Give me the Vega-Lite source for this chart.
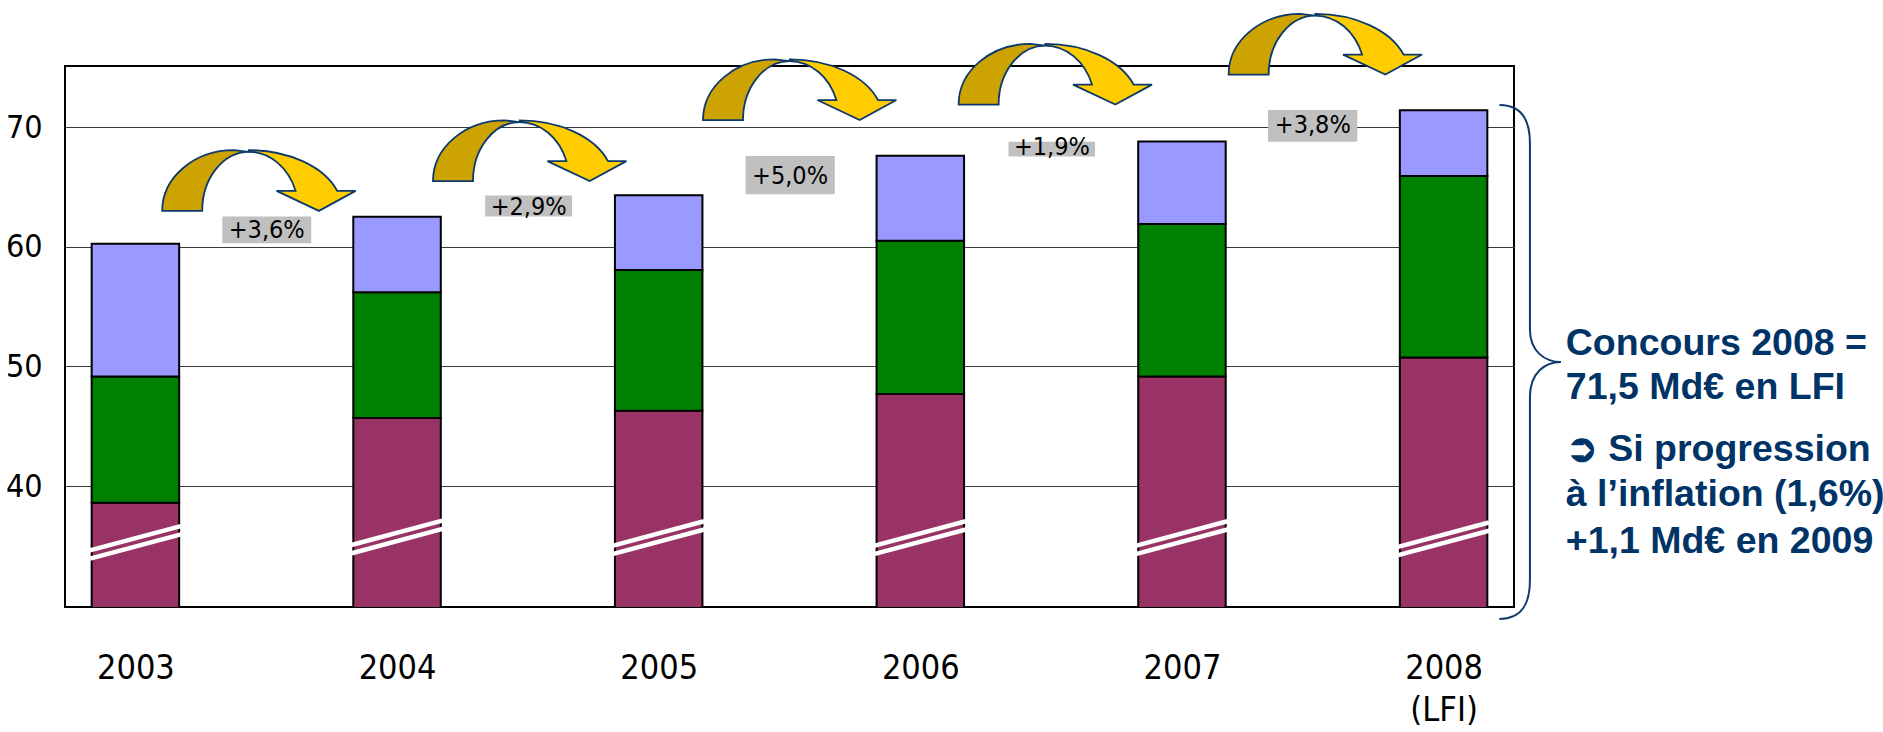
{
  "$schema": "https://vega.github.io/schema/vega-lite/v6.json",
  "width": 1449,
  "height": 541,
  "autosize": "none",
  "padding": {"left": 65, "top": 66, "right": 369, "bottom": 125},
  "background": "white",
  "config": {
    "view": {"stroke": "#000000", "strokeWidth": 2},
    "font": "Liberation Sans Narrow, DejaVu Sans Condensed, sans-serif"
  },
  "title": {
    "text": "(en milliards d'euros)",
    "frame": "group",
    "anchor": "start",
    "align": "center",
    "dx": 967,
    "dy": -17,
    "offset": 0,
    "baseline": "alphabetic",
    "fontSize": 31,
    "fontWeight": "normal",
    "color": "#000000",
    "font": "Liberation Sans Narrow, DejaVu Sans Condensed, sans-serif"
  },
  "datasets": {
    "bars": [
      {"year": 2003, "series": "DGF", "rank": 1, "value": 38.6},
      {"year": 2003, "series": "Autres concours", "rank": 2, "value": 10.55},
      {"year": 2003, "series": "Hors enveloppe", "rank": 3, "value": 11.1},
      {"year": 2004, "series": "DGF", "rank": 1, "value": 45.7},
      {"year": 2004, "series": "Autres concours", "rank": 2, "value": 10.5},
      {"year": 2004, "series": "Hors enveloppe", "rank": 3, "value": 6.3},
      {"year": 2005, "series": "DGF", "rank": 1, "value": 46.3},
      {"year": 2005, "series": "Autres concours", "rank": 2, "value": 11.75},
      {"year": 2005, "series": "Hors enveloppe", "rank": 3, "value": 6.25},
      {"year": 2006, "series": "DGF", "rank": 1, "value": 47.7},
      {"year": 2006, "series": "Autres concours", "rank": 2, "value": 12.8},
      {"year": 2006, "series": "Hors enveloppe", "rank": 3, "value": 7.1},
      {"year": 2007, "series": "DGF", "rank": 1, "value": 49.15},
      {"year": 2007, "series": "Autres concours", "rank": 2, "value": 12.75},
      {"year": 2007, "series": "Hors enveloppe", "rank": 3, "value": 6.9},
      {"year": 2008, "series": "DGF", "rank": 1, "value": 50.75},
      {"year": 2008, "series": "Autres concours", "rank": 2, "value": 15.15},
      {"year": 2008, "series": "Hors enveloppe", "rank": 3, "value": 5.5}
    ],
    "breaks": [
      {"year": 2003, "value": 35.3},
      {"year": 2004, "value": 35.75},
      {"year": 2005, "value": 35.7},
      {"year": 2006, "value": 35.7},
      {"year": 2007, "value": 35.7},
      {"year": 2008, "value": 35.6}
    ],
    "growth": [
      {"x": 2003.502, "x_lo": 2003.332, "x_hi": 2003.672, "y": 61.41, "y_lo": 60.3, "y_hi": 62.52, "label": "+3,6%"},
      {"x": 2004.503, "x_lo": 2004.337, "x_hi": 2004.669, "y": 63.35, "y_lo": 62.52, "y_hi": 64.29, "label": "+2,9%"},
      {"x": 2005.502, "x_lo": 2005.332, "x_hi": 2005.673, "y": 65.93, "y_lo": 64.39, "y_hi": 67.585, "label": "+5,0%"},
      {"x": 2006.503, "x_lo": 2006.337, "x_hi": 2006.668, "y": 68.31, "y_lo": 67.53, "y_hi": 68.78, "label": "+1,9%"},
      {"x": 2007.5, "x_lo": 2007.329, "x_hi": 2007.67, "y": 70.17, "y_lo": 68.78, "y_hi": 71.43, "label": "+3,8%"}
    ],
    "arrows": [
      {"x": 2003.472, "y": 65.53},
      {"x": 2004.507, "y": 68.02},
      {"x": 2005.539, "y": 73.12},
      {"x": 2006.516, "y": 74.41},
      {"x": 2007.548, "y": 76.92}
    ],
    "brace": [
      {"x": 2008.33, "y": 50.37}
    ],
    "note": [
      {"x": 2008.467, "y": 50.95, "text": "Concours 2008 ="},
      {"x": 2008.467, "y": 47.25, "text": "71,5 Md€ en LFI"},
      {"x": 2008.467, "y": 42.06, "text": "➲ Si progression"},
      {"x": 2008.467, "y": 38.3, "text": "à l’inflation (1,6%)"},
      {"x": 2008.467, "y": 34.41, "text": "+1,1 Md€ en 2009"}
    ]
  },
  "layer": [
    {
      "data": {"name": "bars"},
      "mark": {"type": "bar", "width": 87.5, "stroke": "#000000", "strokeWidth": 2, "clip": true},
      "encoding": {
        "x": {
          "field": "year",
          "type": "quantitative",
          "scale": {"domain": [2002.75, 2008.25], "nice": false, "zero": false},
          "axis": {
            "title": null,
            "values": [2003, 2004, 2005, 2006, 2007, 2008],
            "format": "d",
            "labelExpr": "datum.value == 2008 ? ['2008', '(LFI)'] : datum.label",
            "grid": false,
            "ticks": false,
            "tickSize": 0,
            "domain": false,
            "labelPadding": 44,
            "labelFontSize": 34,
            "labelLineHeight": 42,
            "labelColor": "#000000",
            "labelFont": "Liberation Sans Narrow, DejaVu Sans Condensed, sans-serif",
            "labelFlush": false,
            "labelOverlap": false
          }
        },
        "y": {
          "field": "value",
          "type": "quantitative",
          "stack": "zero",
          "scale": {"domain": [29.9, 75.1], "nice": false, "zero": false},
          "axis": {
            "title": null,
            "values": [40, 50, 60, 70],
            "grid": true,
            "gridColor": "#3a3a3a",
            "gridWidth": 1,
            "ticks": false,
            "tickSize": 0,
            "domain": false,
            "labelPadding": 23,
            "labelFontSize": 32,
            "labelColor": "#000000",
            "labelFont": "Liberation Sans Narrow, DejaVu Sans Condensed, sans-serif",
            "labelFlush": false
          }
        },
        "color": {
          "field": "series",
          "type": "nominal",
          "scale": {"domain": ["DGF", "Autres concours", "Hors enveloppe"], "range": ["#993366", "#008000", "#9999FF"]},
          "legend": null
        },
        "order": {"field": "rank", "type": "quantitative"}
      }
    },
    {
      "data": {"name": "breaks"},
      "mark": {"type": "point", "shape": "M-1,-0.0833H1M-1,0.0833H1", "size": 9216, "filled": false, "stroke": "#FFFFFF", "strokeWidth": 4.5, "opacity": 1, "angle": -15},
      "encoding": {
        "x": {"field": "year", "type": "quantitative", "title": null},
        "y": {"field": "value", "type": "quantitative", "title": null}
      }
    },
    {
      "data": {"name": "growth"},
      "mark": {"type": "rect", "fill": "#C0C0C0", "stroke": null},
      "encoding": {
        "x": {"field": "x_lo", "type": "quantitative", "title": null},
        "x2": {"field": "x_hi"},
        "y": {"field": "y_lo", "type": "quantitative", "title": null},
        "y2": {"field": "y_hi"}
      }
    },
    {
      "data": {"name": "growth"},
      "mark": {"type": "text", "fontSize": 25, "color": "#000000", "align": "center", "baseline": "middle", "font": "Liberation Sans Narrow, DejaVu Sans Condensed, sans-serif"},
      "encoding": {
        "x": {"field": "x", "type": "quantitative", "title": null},
        "y": {"field": "y", "type": "quantitative", "title": null},
        "text": {"field": "label"}
      }
    },
    {
      "data": {"name": "arrows"},
      "mark": {"type": "point", "shape": "M-1,0.3139A0.7415,0.6277 0 0 1 -0.2585,-0.3139L-0.1034,-0.2963A0.4829,0.6101 0 0 0 -0.5863,0.3139Z", "size": 37404, "filled": true, "fill": "#CCA300", "stroke": "#0E3A6B", "strokeWidth": 1.8, "opacity": 1},
      "encoding": {
        "x": {"field": "x", "type": "quantitative", "title": null},
        "y": {"field": "y", "type": "quantitative", "title": null}
      }
    },
    {
      "data": {"name": "arrows"},
      "mark": {"type": "point", "shape": "M-0.1034,-0.3139A0.9669,0.6277 0 0 1 0.8097,0.107L1,0.107L0.6205,0.3139L0.183,0.107L0.3795,0.107A0.5129,0.6101 0 0 0 -0.1034,-0.2963Z", "size": 37404, "filled": true, "fill": "#FFCC00", "stroke": "#0E3A6B", "strokeWidth": 1.8, "opacity": 1},
      "encoding": {
        "x": {"field": "x", "type": "quantitative", "title": null},
        "y": {"field": "y", "type": "quantitative", "title": null}
      }
    },
    {
      "data": {"name": "brace"},
      "mark": {"type": "point", "shape": "M-0.1187,-1C-0.03,-1 0,-0.94 0,-0.852L0,-0.125C0,-0.04 0.06,0 0.1206,0C0.06,0 0,0.04 0,0.136L0,0.848C0,0.94 -0.03,1 -0.1187,1", "size": 264196, "filled": false, "stroke": "#0E3A6B", "strokeWidth": 2, "opacity": 1},
      "encoding": {
        "x": {"field": "x", "type": "quantitative", "title": null},
        "y": {"field": "y", "type": "quantitative", "title": null}
      }
    },
    {
      "data": {"name": "note"},
      "mark": {"type": "text", "fontSize": 37.5, "fontWeight": "bold", "color": "#003366", "align": "left", "baseline": "alphabetic", "font": "Liberation Sans, Arial, sans-serif"},
      "encoding": {
        "x": {"field": "x", "type": "quantitative", "title": null},
        "y": {"field": "y", "type": "quantitative", "title": null},
        "text": {"field": "text"}
      }
    }
  ]
}
